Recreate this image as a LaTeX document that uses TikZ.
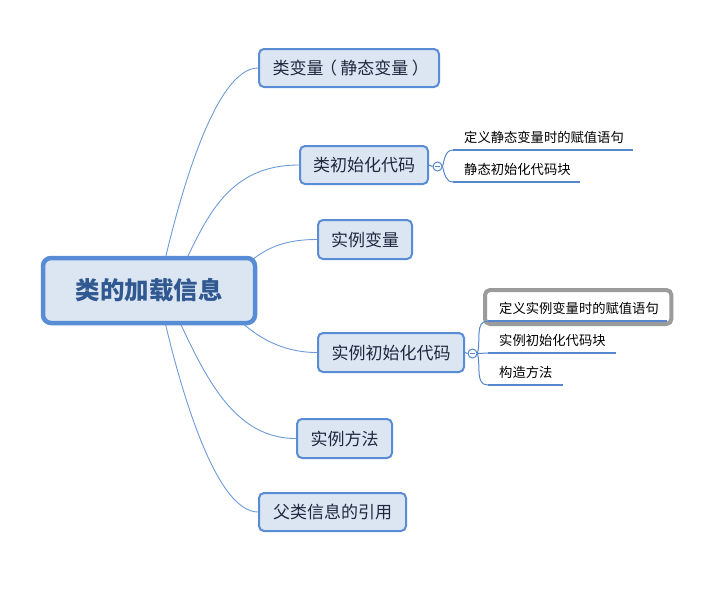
\documentclass[tikz,border=0pt]{standalone}
\usepackage{fontspec}
\setmainfont{Noto Sans CJK SC}
\usetikzlibrary{calc}
\definecolor{bordc}{RGB}{88,140,212}
\definecolor{fillc}{RGB}{220,230,242}
\definecolor{connc}{RGB}{110,155,215}
\definecolor{roottxt}{RGB}{48,88,145}
\definecolor{childtxt}{RGB}{30,40,62}
\definecolor{ulc}{RGB}{85,135,205}
\definecolor{selc}{RGB}{155,155,155}
\pgfdeclarelayer{bg}
\pgfdeclarelayer{paper}
\pgfsetlayers{paper,bg,main}
\tikzset{
  rootbox/.style={draw=bordc, fill=fillc, line width=4.5pt, rounded corners=8pt,
    minimum width=212pt, minimum height=65pt, inner sep=0pt,
    text=roottxt, font=\fontsize{24.5}{28}\selectfont\bfseries},
  childbox/.style={draw=bordc, fill=fillc, line width=2pt, rounded corners=5pt,
    inner sep=0pt, text=childtxt, font=\fontsize{17}{20}\selectfont},
  leaf/.style={anchor=south west, inner xsep=0pt, inner ysep=7pt, text depth=0pt,
    align=left, text=black, font=\fontsize{13.3}{16}\selectfont},
  uline/.style={draw=ulc, line width=2.8pt},
  conn/.style={draw=connc, line width=0.9pt},
  subconn/.style={draw=ulc, line width=1pt},
  knob/.style={circle, draw=ulc, fill=white, line width=1pt, minimum size=9pt, inner sep=0pt,
    path picture={\draw[ulc, line width=0.9pt] ([xshift=-2.8pt]path picture bounding box.center) -- ([xshift=2.8pt]path picture bounding box.center);}},
  selbox/.style={draw=selc, line width=4pt, rounded corners=5pt}
}
\begin{document}
\begin{tikzpicture}[x=1pt,y=-1pt]
\begin{pgfonlayer}{paper}
\fill[white] (0,0) rectangle (711,589);
\end{pgfonlayer}
\useasboundingbox (0,0) rectangle (711,589);

\node[rootbox] (root) at (149,290.5) {类的加载信息};

\node[childbox, minimum width=180pt, minimum height=38pt] (c1) at (349,68) {类变量\kern-0.2em（\kern0.2em静态变量\kern0.2em）\kern-0.2em};
\node[childbox, minimum width=128pt, minimum height=38pt] (c2) at (364,165) {类初始化代码};
\node[childbox, minimum width=94pt, minimum height=39pt] (c3) at (365,239.5) {实例变量};
\node[childbox, minimum width=146pt, minimum height=39pt] (c4) at (391,352.5) {实例初始化代码};
\node[childbox, minimum width=95pt, minimum height=39pt] (c5) at (344.5,438.5) {实例方法};
\node[childbox, minimum width=147pt, minimum height=38pt] (c6) at (332.5,512) {父类信息的引用};

% sub-branches of c2
\node[knob] (k2) at (437.5,166.5) {};
\node[leaf, text width=180pt] (l1) at (453,150) {\hspace*{11pt}定义静态变量时的赋值语句};
\node[leaf, text width=127pt] (l2) at (453,182) {\hspace*{11pt}静态初始化代码块};

% sub-branches of c4
\node[knob] (k4) at (472.5,353.5) {};
\node[leaf, text width=179pt] (l3) at (488,321) {\hspace*{11pt}定义实例变量时的赋值语句};
\node[leaf, text width=128pt] (l4) at (488,353) {\hspace*{11pt}实例初始化代码块};
\node[leaf, text width=75pt] (l5) at (488,385) {\hspace*{11pt}构造方法};

\begin{pgfonlayer}{bg}
  \coordinate (s1) at ($(root.center)+(9,0.5)$);
  \coordinate (s2) at ($(root.center)+(22,0.5)$);
  \coordinate (s3) at ($(root.center)+(86,-15.5)$);
  \coordinate (s4) at ($(root.center)+(76,14.5)$);
  \coordinate (s5) at ($(root.center)+(16,0.5)$);
  \coordinate (s6) at ($(root.center)+(9,0.5)$);
  \draw[conn] (s1) .. controls +(20,-94) and +(-43,0) .. (c1.west);
  \draw[conn] (s2) .. controls +(31,-60) and +(-80,0) .. (c2.west);
  \draw[conn] (s3) .. controls +(25,-25) and +(-37,0) .. (c3.west);
  \draw[conn] (s4) .. controls +(25,30) and +(-37,0) .. (c4.west);
  \draw[conn] (s5) .. controls +(34,70) and +(-70,0) .. (c5.west);
  \draw[conn] (s6) .. controls +(20,94) and +(-43,0) .. (c6.west);
\end{pgfonlayer}

% selection highlight
\draw[selbox] ($(l3.south west)+(-3,3)$) rectangle ($(l3.south east)+(4,-31)$);

\draw[subconn] (c2.east) -- (k2.west);
\draw[subconn] (k2.east) to[out=75,in=180] (l1.south west);
\draw[subconn] (k2.east) to[out=-75,in=180] (l2.south west);
\draw[uline] (l1.south west) -- (l1.south east);
\draw[uline] (l2.south west) -- (l2.south east);

\draw[subconn] (c4.east) -- (k4.west);
\draw[subconn] (k4.east) to[out=75,in=180] (l3.south west);
\draw[subconn] (k4.east) -- (l4.south west);
\draw[subconn] (k4.east) to[out=-75,in=180] (l5.south west);
\draw[uline] (l3.south west) -- (l3.south east);
\draw[uline] (l4.south west) -- (l4.south east);
\draw[uline] (l5.south west) -- (l5.south east);
\end{tikzpicture}
\end{document}
